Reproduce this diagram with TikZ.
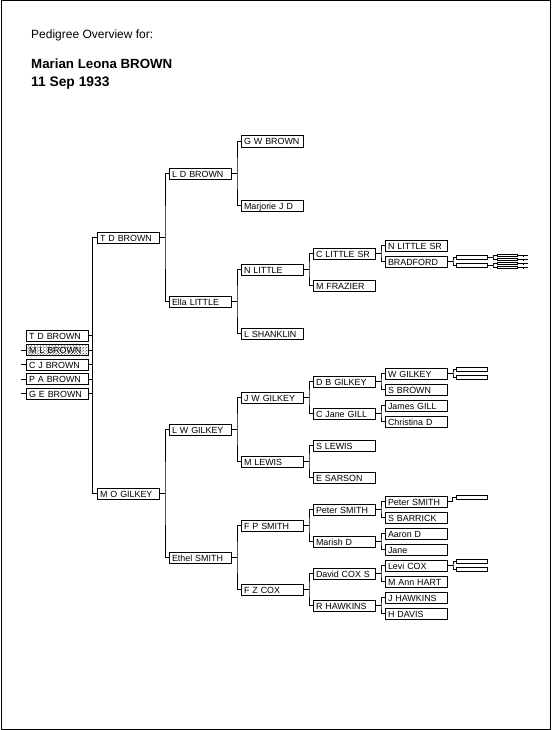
\documentclass[tikz,border=0pt]{standalone}
\usepackage{fontspec}
\setmainfont{Liberation Sans}
\usetikzlibrary{patterns,calc}
\newcommand\famlink[3]{%
  \draw[conn] (#2.west) -| ($(#1.east)+(5,0)$) |- (#3.west);
  \draw[conn] (#1.east) -- ++(5,0);}
\begin{document}
\begin{tikzpicture}[x=1bp,y=-1bp,
  conn/.style={line width=1bp},
  pbox/.style={draw, line width=1bp, rectangle, anchor=west, minimum width=62bp,
    minimum height=11bp, inner xsep=2.5bp, inner ysep=0pt, text width=57bp, align=left,
    font=\fontsize{8.9bp}{10bp}\selectfont, text height=7.5bp, text depth=0.5bp},
  sbox/.style={draw, line width=1bp, rectangle, anchor=west, minimum width=31bp,
    minimum height=4bp, inner sep=0pt},
  tbox/.style={draw, line width=1bp, rectangle, anchor=west, minimum width=20bp,
    minimum height=2bp, inner sep=0pt},
  title/.style={anchor=base west, inner sep=0pt}
]
\useasboundingbox (0,0) rectangle (552,730);
\draw[line width=1bp] (1.5,0.5) rectangle (550.5,729);

% titles
\node[title, font=\fontsize{12bp}{13bp}\selectfont] (t1) at (31,38.5) {Pedigree Overview for:};
\node[title, font=\bfseries\fontsize{13.3bp}{14bp}\selectfont] (t2) at (31,69) {Marian Leona BROWN};
\node[title, font=\bfseries\fontsize{13.8bp}{14bp}\selectfont] (t3) at (31,86.5) {11 Sep 1933};

% siblings
\node[pbox] (s1) at (26,335.5) {T D BROWN};
\node[pbox, pattern=crosshatch dots, pattern color=black] (s2) at (26,350) {M L BROWN};
\node[pbox] (s3) at (26,364.5) {C J BROWN};
\node[pbox] (s4) at (26,379) {P A BROWN};
\node[pbox] (s5) at (26,393.5) {G E BROWN};
\foreach \n in {s1,s2,s3,s4,s5} {\draw[conn] (\n.east) -- ++(2.5,0);}
\foreach \n in {s2,s3,s4,s5} {\draw[conn] (\n.west) -- ++(-5,0);}

% generation 1
\node[pbox] (f) at (97,237.5) {T D BROWN};
\node[pbox] (m) at (97,493.5) {M O GILKEY};
\coordinate (famx) at (92.5,365);
\draw[conn] (f.west) -| (famx) |- (m.west);

% generation 2
\node[pbox] (ff) at (169,173.5) {L D BROWN};
\node[pbox] (fm) at (169,301.5) {Ella LITTLE};
\node[pbox] (mf) at (169,429.5) {L W GILKEY};
\node[pbox] (mm) at (169,557.5) {Ethel SMITH};

% generation 3
\node[pbox] (fff) at (241,141.5) {G W BROWN};
\node[pbox] (ffm) at (241,205.5) {Marjorie J D};
\node[pbox] (fmf) at (241,269.5) {N LITTLE};
\node[pbox] (fmm) at (241,333.5) {L SHANKLIN};
\node[pbox] (mff) at (241,397.5) {J W GILKEY};
\node[pbox] (mfm) at (241,461.5) {M LEWIS};
\node[pbox] (mmf) at (241,525.5) {F P SMITH};
\node[pbox] (mmm) at (241,589.5) {F Z COX};

% generation 4
\node[pbox] (fmff) at (313,253.5) {C LITTLE SR};
\node[pbox] (fmfm) at (313,285.5) {M FRAZIER};
\node[pbox] (mfff) at (313,381.5) {D B GILKEY};
\node[pbox] (mffm) at (313,413.5) {C Jane GILL};
\node[pbox] (mfmf) at (313,445.5) {S LEWIS};
\node[pbox] (mfmm) at (313,477.5) {E SARSON};
\node[pbox] (mmff) at (313,509.5) {Peter SMITH};
\node[pbox] (mmfm) at (313,541.5) {Marish D};
\node[pbox] (mmmf) at (313,573.5) {David COX S};
\node[pbox] (mmmm) at (313,605.5) {R HAWKINS};

% generation 5
\node[pbox] (fmfff) at (385,245.5) {N LITTLE SR};
\node[pbox] (fmffm) at (385,261.5) {BRADFORD};
\node[pbox] (mffff) at (385,373.5) {W GILKEY};
\node[pbox] (mfffm) at (385,389.5) {S BROWN};
\node[pbox] (mffmf) at (385,405.5) {James GILL};
\node[pbox] (mffmm) at (385,421.5) {Christina D};
\node[pbox] (mmfff) at (385,501.5) {Peter SMITH};
\node[pbox] (mmffm) at (385,517.5) {S BARRICK};
\node[pbox] (mmfmf) at (385,533.5) {Aaron D};
\node[pbox] (mmfmm) at (385,549.5) {Jane};
\node[pbox] (mmmff) at (385,565.5) {Levi COX};
\node[pbox] (mmmfm) at (385,581.5) {M Ann HART};
\node[pbox] (mmmmf) at (385,597.5) {J HAWKINS};
\node[pbox] (mmmmm) at (385,613.5) {H DAVIS};

% generation 6
\node[sbox] (fmffmf) at (456,257.5) {};
\node[sbox] (fmffmm) at (456,265.5) {};
\node[sbox] (mfffff) at (456,369.5) {};
\node[sbox] (mffffm) at (456,377.5) {};
\node[sbox] (mmffff) at (456,497.5) {};
\node[sbox] (mmmfff) at (456,561.5) {};
\node[sbox] (mmmffm) at (456,569.5) {};

% generation 7
\node[tbox] (fmffmff) at (497,255.5) {};
\node[tbox] (fmffmfm) at (497,259.5) {};
\node[tbox] (fmffmmf) at (497,263.5) {};
\node[tbox] (fmffmmm) at (497,267.5) {};

% connectors
\famlink{f}{ff}{fm}
\famlink{m}{mf}{mm}
\famlink{ff}{fff}{ffm}
\famlink{fm}{fmf}{fmm}
\famlink{mf}{mff}{mfm}
\famlink{mm}{mmf}{mmm}
\famlink{fmf}{fmff}{fmfm}
\famlink{mff}{mfff}{mffm}
\famlink{mfm}{mfmf}{mfmm}
\famlink{mmf}{mmff}{mmfm}
\famlink{mmm}{mmmf}{mmmm}
\famlink{fmff}{fmfff}{fmffm}
\famlink{mfff}{mffff}{mfffm}
\famlink{mffm}{mffmf}{mffmm}
\famlink{mmff}{mmfff}{mmffm}
\famlink{mmfm}{mmfmf}{mmfmm}
\famlink{mmmf}{mmmff}{mmmfm}
\famlink{mmmm}{mmmmf}{mmmmm}
\famlink{fmffm}{fmffmf}{fmffmm}
\famlink{mffff}{mfffff}{mffffm}
\famlink{mmmff}{mmmfff}{mmmffm}
\famlink{fmffmf}{fmffmff}{fmffmfm}
\famlink{fmffmm}{fmffmmf}{fmffmmm}
\draw[conn] (mmffff.west) -| ($(mmfff.east)+(4.5,0)$) -- (mmfff.east);

% generation 8 stubs
\foreach \n in {fmffmff,fmffmfm,fmffmmf,fmffmmm} {
  \draw[conn] (\n.east) -- ++(10,0);
  \draw[conn] ([xshift=5bp]\n.east) ++(0,-1) -- ++(0,2);
}
\end{tikzpicture}
\end{document}
